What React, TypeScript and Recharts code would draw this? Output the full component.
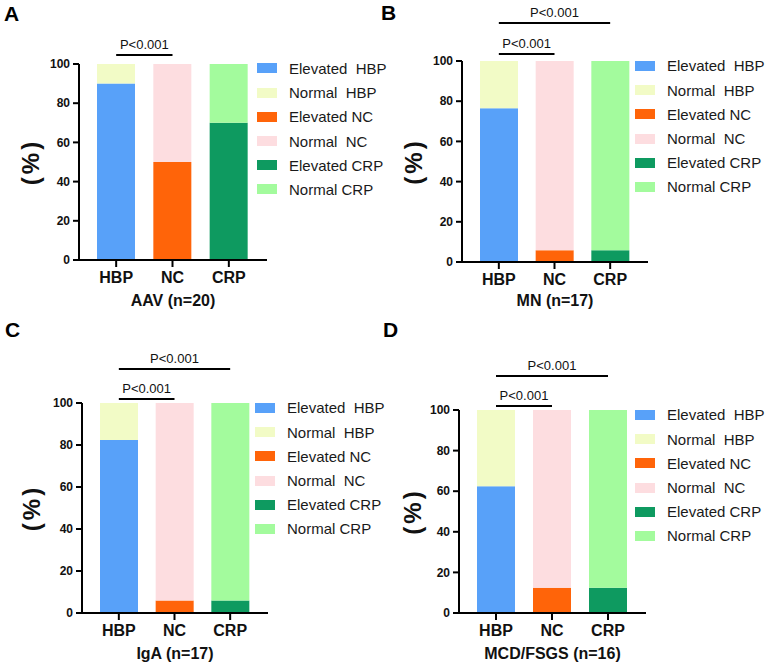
import React from 'react';
import { BarChart, Bar, XAxis, YAxis, Cell, Legend, ReferenceLine } from 'recharts';

const FONT = '"Liberation Sans", Arial, sans-serif';

const categories = ['HBP', 'NC', 'CRP'];
const yTicks = [0, 20, 40, 60, 80, 100];
const legendNames = ['Elevated  HBP', 'Normal  HBP', 'Elevated NC', 'Normal  NC', 'Elevated CRP', 'Normal CRP'];
const elevatedColors = ['#58A1F9', '#FF6409', '#0E9A60'];
const normalColors = ['#F2FBC6', '#FDDDE0', '#A3FB9D'];

// percent of patients per marker
const aavElevated = [90, 50, 70];
const aavNormal = [10, 50, 30];
const mnElevated = [76.5, 5.9, 5.9];
const mnNormal = [23.5, 94.1, 94.1];
const igaElevated = [82.4, 5.9, 5.9];
const igaNormal = [17.6, 94.1, 94.1];
const mcdElevated = [62.5, 12.5, 12.5];
const mcdNormal = [37.5, 87.5, 87.5];

const makeRows = (elevated: number[], normal: number[]) =>
  categories.map((name, i) => ({ name, elevated: elevated[i], normal: normal[i] }));

type Bracket = { from: string; to: string; y: number };

const panels = [
  {
    letter: 'A', title: 'AAV (n=20)', rows: makeRows(aavElevated, aavNormal),
    box: { x: 0, y: 0, w: 383, h: 320 }, plot: { left: 79, top: 64, right: 267, bottom: 260 },
    xHeight: 46, yLabelX: 30, legend: { x: 257, y: 68.5 }, letterPos: { x: 4, y: 21 },
    brackets: [{ from: 'HBP', to: 'NC', y: 104.6 }] as Bracket[],
  },
  {
    letter: 'B', title: 'MN (n=17)', rows: makeRows(mnElevated, mnNormal),
    box: { x: 383, y: 0, w: 384, h: 320 }, plot: { left: 462, top: 61, right: 648, bottom: 262 },
    xHeight: 44, yLabelX: 413, legend: { x: 635, y: 66 }, letterPos: { x: 381, y: 20 },
    brackets: [{ from: 'HBP', to: 'NC', y: 103.5 }, { from: 'HBP', to: 'CRP', y: 118.9 }] as Bracket[],
  },
  {
    letter: 'C', title: 'IgA (n=17)', rows: makeRows(igaElevated, igaNormal),
    box: { x: 0, y: 320, w: 383, h: 346 }, plot: { left: 82, top: 403, right: 268, bottom: 613 },
    xHeight: 46, yLabelX: 31, legend: { x: 255, y: 408 }, letterPos: { x: 5, y: 337 },
    brackets: [{ from: 'HBP', to: 'NC', y: 101.9 }, { from: 'HBP', to: 'CRP', y: 116.2 }] as Bracket[],
  },
  {
    letter: 'D', title: 'MCD/FSGS (n=16)', rows: makeRows(mcdElevated, mcdNormal),
    box: { x: 383, y: 320, w: 384, h: 346 }, plot: { left: 459, top: 410, right: 646, bottom: 613 },
    xHeight: 46, yLabelX: 412, legend: { x: 635, y: 415 }, letterPos: { x: 383, y: 337 },
    brackets: [{ from: 'HBP', to: 'NC', y: 102 }, { from: 'HBP', to: 'CRP', y: 116.7 }] as Bracket[],
  },
];

const legendColors = elevatedColors.flatMap((c, i) => [c, normalColors[i]]);

const LegendBox = () => (
  <div style={{ fontFamily: FONT, fontSize: 15, color: '#1a1a1a' }}>
    {legendNames.map((name, i) => (
      <div key={name} style={{ display: 'flex', alignItems: 'center', height: 24.2 }}>
        <div style={{ width: 20, height: 10, background: legendColors[i], marginRight: 12 }} />
        <span style={{ whiteSpace: 'pre' }}>{name}</span>
      </div>
    ))}
  </div>
);

const Y_AXIS_W = 60;

const Panel = ({ p }: { p: (typeof panels)[number] }) => {
  const top = p.plot.top - p.box.y;
  const left = p.plot.left - p.box.x - Y_AXIS_W;
  const right = p.box.w - (p.plot.right - p.box.x);
  const height = p.plot.bottom - p.box.y + p.xHeight + 8;
  return (
    <div style={{ position: 'absolute', left: p.box.x, top: p.box.y }}>
      <BarChart width={p.box.w} height={height} data={p.rows}
        margin={{ top, left, right, bottom: 8 }}>
        <XAxis dataKey="name" padding={{ left: 9, right: 10 }} height={p.xHeight}
          axisLine={{ stroke: '#000', strokeWidth: 2 }} tickLine={{ stroke: '#000', strokeWidth: 2 }}
          tickSize={7} tickMargin={5}
          tick={{ fill: '#111', fontSize: 16, fontWeight: 'bold', fontFamily: FONT }}
          label={{ value: p.title, position: 'insideBottom', offset: 0, fill: '#111', fontSize: 16, fontWeight: 'bold', fontFamily: FONT }} />
        <YAxis domain={[0, 100]} ticks={yTicks} width={Y_AXIS_W} interval={0}
          axisLine={{ stroke: '#000', strokeWidth: 2 }} tickLine={{ stroke: '#000', strokeWidth: 2 }}
          tickSize={6} tickMargin={3}
          tick={{ fill: '#111', fontSize: 12, fontWeight: 'bold', fontFamily: FONT }}
          label={{ value: '(%)', angle: -90, position: 'insideLeft', offset: p.yLabelX - p.box.x - left,
            fill: '#111', fontSize: 24, fontWeight: 'bold', fontFamily: FONT, letterSpacing: 3,
            style: { textAnchor: 'middle' } }} />
        <Bar dataKey="elevated" stackId="s" barSize={38} isAnimationActive={false}>
          {p.rows.map((r, i) => <Cell key={r.name} fill={elevatedColors[i]} />)}
        </Bar>
        <Bar dataKey="normal" stackId="s" barSize={38} isAnimationActive={false}>
          {p.rows.map((r, i) => <Cell key={r.name} fill={normalColors[i]} />)}
        </Bar>
        {p.brackets.map((b, i) => (
          <ReferenceLine key={i} ifOverflow="visible" stroke="#000" strokeWidth={2}
            segment={[{ x: b.from, y: b.y }, { x: b.to, y: b.y }]}
            label={{ value: 'P<0.001', position: 'top', offset: 6, fill: '#111', fontSize: 13, fontFamily: FONT }} />
        ))}
        <Legend layout="horizontal" verticalAlign="middle" align="center" content={() => <LegendBox />}
          wrapperStyle={{ left: p.legend.x - p.box.x, top: p.legend.y - 12.1 - p.box.y, width: 140, height: 150 }} />
      </BarChart>
    </div>
  );
}

export default function App() {
  return (
    <div style={{ position: 'absolute', left: 0, top: 0, width: 767, height: 666, background: '#fff' }}>
      {panels.map((p) => <Panel key={p.letter} p={p} />)}
      <svg width={767} height={666} style={{ position: 'absolute', left: 0, top: 0, pointerEvents: 'none' }}>
        {panels.map((p) => (
          <text key={p.letter} x={p.letterPos.x} y={p.letterPos.y} fontFamily={FONT}
            fontWeight="bold" fontSize={21} fill="#000">{p.letter}</text>
        ))}
      </svg>
    </div>
  );
}
